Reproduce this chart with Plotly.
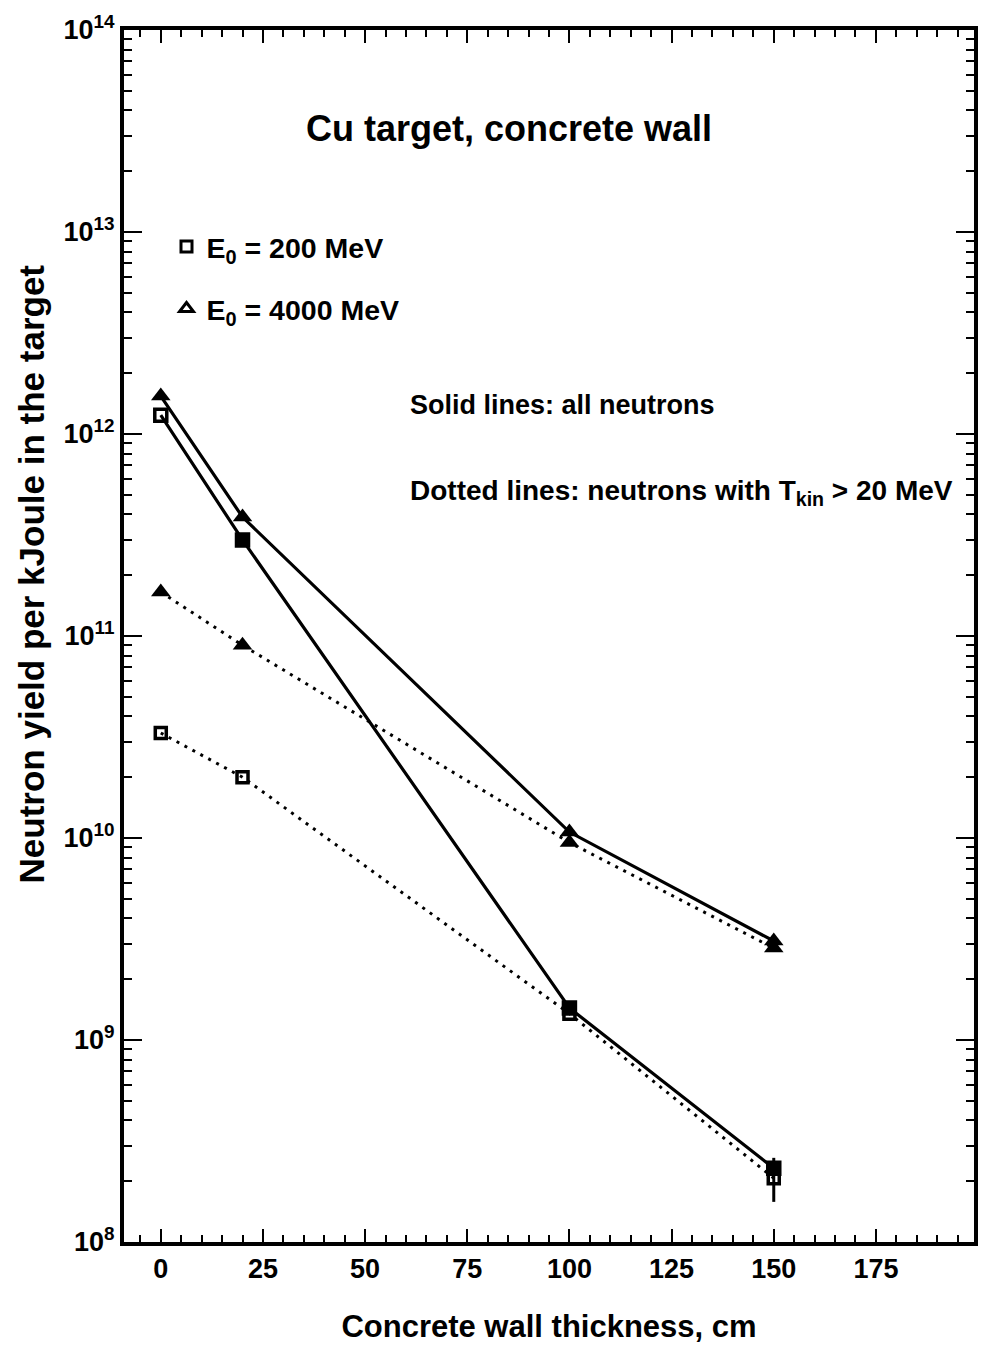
import plotly.graph_objects as go

# Data
thickness = [0, 20, 100, 150]

all_200 = [1.24e12, 2.99e11, 1.44e9, 2.32e8]
all_4000 = [1.54e12, 3.88e11, 1.07e10, 3.09e9]
fast_200 = [3.31e10, 2.0e10, 1.35e9, 2.07e8]
fast_4000 = [1.65e11, 9.0e10, 9.5e9, 2.85e9]

fast_200_err_plus = [0, 0, 0, 0.54e8]
fast_200_err_minus = [0, 0, 0, 0.49e8]

xticks = [0, 25, 50, 75, 100, 125, 150, 175]
yexp = [8, 9, 10, 11, 12, 13, 14]

FONT = "Liberation Sans, Arial, Helvetica, sans-serif"
BLACK = "#000000"

fig = go.Figure()

# Dotted lines: neutrons with T_kin > 20 MeV
fig.add_trace(go.Scatter(
    x=thickness, y=fast_200, mode="lines+markers", showlegend=False,
    line=dict(color=BLACK, width=3, dash="3px,6px"),
    marker=dict(symbol="square-open", size=11, color=BLACK, line=dict(width=3.5, color=BLACK)),
    error_y=dict(type="data", symmetric=False, array=fast_200_err_plus,
                 arrayminus=fast_200_err_minus, color=BLACK, thickness=3, width=0),
))
fig.add_trace(go.Scatter(
    x=thickness, y=fast_4000, mode="lines+markers", showlegend=False,
    line=dict(color=BLACK, width=3, dash="3px,6px"),
    marker=dict(symbol="triangle-up", size=17, color=BLACK),
))

# Solid lines: all neutrons
fig.add_trace(go.Scatter(
    x=thickness, y=all_200, mode="lines+markers", showlegend=False,
    line=dict(color=BLACK, width=3.2),
    marker=dict(symbol=["square-open", "square", "square", "square"], size=12,
                color=BLACK, line=dict(width=3.5, color=BLACK)),
))
fig.add_trace(go.Scatter(
    x=thickness, y=all_4000, mode="lines+markers", showlegend=False,
    line=dict(color=BLACK, width=3.2),
    marker=dict(symbol="triangle-up", size=17, color=BLACK),
))

# Legend entries
fig.add_trace(go.Scatter(
    x=[None], y=[None], mode="markers", name="E<sub>0</sub> = 200 MeV",
    legendgroup="a",
    marker=dict(symbol="square-open", size=11, color=BLACK, line=dict(width=3, color=BLACK)),
))
fig.add_trace(go.Scatter(
    x=[None], y=[None], mode="markers", name="E<sub>0</sub> = 4000 MeV",
    legendgroup="b",
    marker=dict(symbol="triangle-up-open", size=12, color=BLACK, line=dict(width=3, color=BLACK)),
))

fig.update_layout(
    width=981, height=1347,
    margin=dict(l=124, r=3, t=30, b=105),
    paper_bgcolor="white", plot_bgcolor="white",
    font=dict(family=FONT, color=BLACK, size=26, weight="bold"),
    legend=dict(x=0.05, y=0.842, xanchor="left", yanchor="top",
                bgcolor="rgba(0,0,0,0)", font=dict(size=28.5, family=FONT, weight="bold"),
                traceorder="grouped", tracegroupgap=22, itemwidth=30),
    annotations=[
        dict(text="Cu target, concrete wall", xref="paper", yref="paper",
             x=(511 - 124) / 854, y=(1242 - 128) / 1212, showarrow=False,
             font=dict(size=36, family=FONT, weight="bold"),
             xanchor="center", yanchor="middle"),
        dict(text="Solid lines: all neutrons", xref="paper", yref="paper",
             x=(409 - 124) / 854, y=(1242 - 405) / 1212, showarrow=False,
             font=dict(size=27, family=FONT, weight="bold"), xanchor="left", yanchor="middle"),
        dict(text="Dotted lines: neutrons with T<sub>kin</sub> > 20 MeV", xref="paper", yref="paper",
             x=(409 - 124) / 854, y=(1242 - 492) / 1212, showarrow=False,
             font=dict(size=28, family=FONT, weight="bold"), xanchor="left", yanchor="middle"),
        dict(text="Neutron yield per kJoule in the target", xref="paper", yref="paper",
             x=(31 - 124) / 854, y=(1242 - 574) / 1212, showarrow=False, textangle=-90,
             font=dict(size=35, family=FONT, weight="bold"), xanchor="center", yanchor="middle"),
    ],
)

fig.update_xaxes(
    range=[-9, 199], tickvals=xticks, ticktext=[str(v) for v in xticks],
    ticks="inside", ticklen=13, tickwidth=2, tickcolor=BLACK,
    minor=dict(dtick=5, ticks="inside", ticklen=7, tickwidth=2, tickcolor=BLACK),
    showline=True, linewidth=4, linecolor=BLACK, mirror="allticks",
    showgrid=False, zeroline=False,
    tickfont=dict(size=27, family=FONT, weight="bold"),
    title=dict(text="Concrete wall thickness, cm", font=dict(size=31, family=FONT, weight="bold"), standoff=33),
)
fig.update_yaxes(
    type="log", range=[8, 14],
    tickvals=[10 ** e for e in yexp], ticktext=["10<sup>%d</sup>" % e for e in yexp],
    ticks="inside", ticklen=18, tickwidth=2, tickcolor=BLACK,
    minor=dict(dtick="D1", ticks="inside", ticklen=8, tickwidth=2, tickcolor=BLACK),
    showline=True, linewidth=4, linecolor=BLACK, mirror="allticks",
    showgrid=False, zeroline=False,
    tickfont=dict(size=27, family=FONT, weight="bold"),
)

fig.write_html("out.html")
